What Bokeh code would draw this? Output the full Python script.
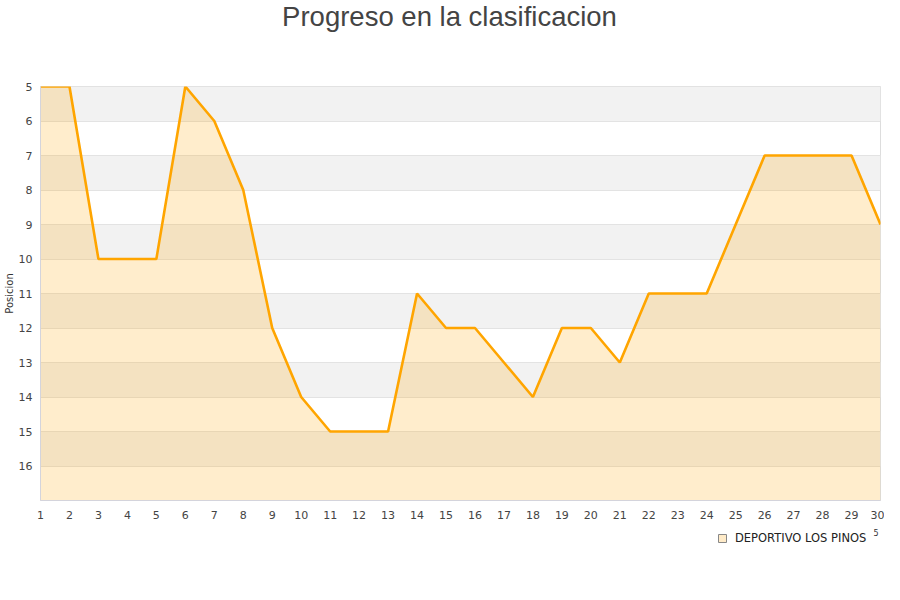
from bokeh.plotting import figure
from bokeh.layouts import column
from bokeh.models import Range1d, FixedTicker, Legend, LegendItem, Label, BoxAnnotation
from bokeh.embed import file_html
from bokeh.resources import INLINE

# datos de la grafica
titulo = "Progreso en la clasificacion"
equipo = "DEPORTIVO LOS PINOS"
jornadas = list(range(1, 31))
posicion = [5, 5, 10, 10, 10, 5, 6, 8, 12, 14, 15, 15, 15, 11, 12,
            12, 13, 14, 12, 12, 13, 11, 11, 11, 9, 7, 7, 7, 7, 9]
y_ticks = list(range(5, 17))
fondo = 17

naranja = "#ffa500"


def franja(alto, y0):
    # figura vacia cuyas coordenadas coinciden con los pixeles de la pagina
    f = figure(width=884, height=alto, x_range=Range1d(40, 880),
               y_range=Range1d(y0 + alto, y0),
               output_backend="svg", toolbar_location=None,
               x_axis_location=None, y_axis_location=None,
               min_border=0, outline_line_color=None)
    f.grid.visible = False
    return f


# titulo
cabecera = franja(40, 0)
cabecera.add_layout(Label(x=449, y=16, text=titulo, text_align="center",
                          text_baseline="middle", text_font="Liberation Sans",
                          text_font_size="27.5px", text_color="#444444"))

p = figure(width=884, height=481,
           x_range=Range1d(1, 30), y_range=Range1d(fondo, 5),
           output_backend="svg", toolbar_location=None,
           min_border_left=40, min_border_right=4,
           min_border_top=46, min_border_bottom=20)

p.outline_line_color = "#dddddd"
p.xgrid.grid_line_color = None
p.ygrid.ticker = FixedTicker(ticks=y_ticks + [fondo])
p.ygrid.grid_line_color = "#e3e3e3"

# bandas grises alternas 5-6, 7-8, ...
for t in y_ticks[::2]:
    p.add_layout(BoxAnnotation(bottom=t, top=t + 1, fill_color="#f2f2f2",
                               fill_alpha=1, line_color=None, level="image"))

p.xaxis.ticker = FixedTicker(ticks=jornadas)
p.yaxis.ticker = FixedTicker(ticks=y_ticks)
for ax in (p.xaxis, p.yaxis):
    ax.axis_line_color = "#d4d4dc"
    ax.major_tick_line_color = None
    ax.major_tick_in = 0
    ax.major_tick_out = 0
    ax.minor_tick_line_color = None
    ax.major_label_text_font = "DejaVu Sans"
    ax.major_label_text_font_size = "11px"
    ax.major_label_text_color = "#444444"
p.xaxis.major_label_standoff = 10
p.yaxis.major_label_standoff = 8
p.yaxis.axis_label = "Posicion"
p.yaxis.axis_label_text_font = "DejaVu Sans"
p.yaxis.axis_label_text_font_size = "10px"
p.yaxis.axis_label_text_font_style = "normal"
p.yaxis.axis_label_text_color = "#333333"
p.yaxis.axis_label_standoff = 1

p.varea(x=jornadas, y1=posicion, y2=[fondo] * len(jornadas),
        fill_color=naranja, fill_alpha=0.2)
p.line(jornadas, posicion, line_color=naranja, line_width=2.6)

# franja inferior con la leyenda
pie = franja(44, 521)
marca = pie.quad(left=[0], right=[1], bottom=[0], top=[1],
                 fill_color="#ffebc8", line_color="#888888")
legend = Legend(items=[LegendItem(label=equipo, renderers=[marca])],
                location=(677, 20), orientation="horizontal",
                border_line_color=None, background_fill_alpha=0,
                label_text_font="DejaVu Sans", label_text_font_size="11.5px",
                label_text_color="#222222", label_standoff=8,
                glyph_width=10, glyph_height=10, padding=2, margin=0)
pie.add_layout(legend)
pie.add_layout(Label(x=873, y=535, text="5", text_font="DejaVu Sans",
                     text_font_size="8px", text_color="#333333"))

open("out.html", "w").write(file_html(column(cabecera, p, pie), INLINE))
